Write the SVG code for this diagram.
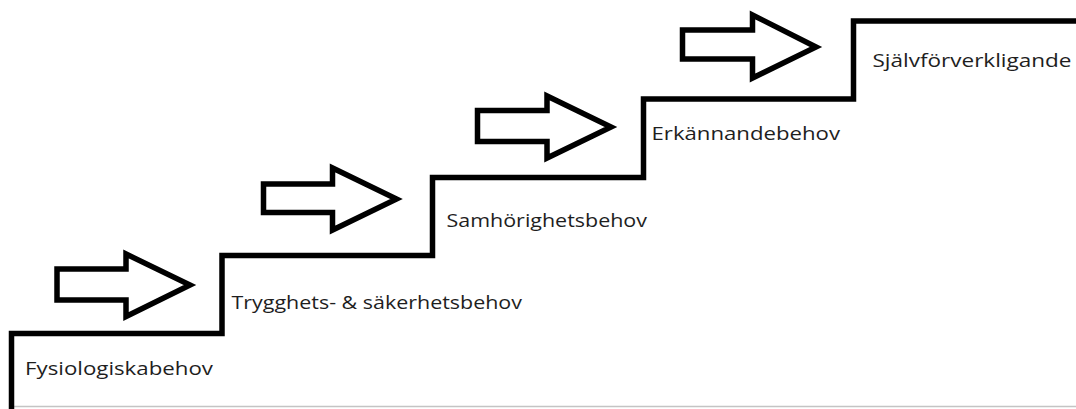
<svg xmlns="http://www.w3.org/2000/svg" width="1076" height="409" viewBox="0 0 1076 409">
  <style>
    .stair { fill: none; stroke: #000; stroke-width: 5.5; stroke-linejoin: miter; }
    .arrow { fill: #fff; stroke: #000; stroke-width: 5.5; stroke-linejoin: miter; stroke-miterlimit: 10; }
    .label { font-family: "Open Sans", "Noto Sans", "Liberation Sans", sans-serif; font-size: 18.5px; fill: #1e1e1e; }
    .base { stroke: #c4c4c4; stroke-width: 1.5; }
  </style>
  <rect width="1076" height="409" fill="#fff"/>

  <!-- staircase outline and ground line -->
  <g id="connectors">
    <line class="base" x1="14" y1="406.5" x2="1076" y2="406.5"/>
    <path class="stair" d="M11.5,409 V333.5 H222 V255.5 H432.5 V177.5 H643.5 V99 H853.5 V21 H1076"/>
  </g>

  <!-- block arrows pointing up the stairs -->
  <g id="arrow-1"><path class="arrow" d="M57,269 H126 V254 L190,285 L126,316.5 V300 H57 Z"/></g>
  <g id="arrow-2"><path class="arrow" d="M263.5,184 H332.5 V168 L396.5,199 L332.5,230 V212.5 H263.5 Z"/></g>
  <g id="arrow-3"><path class="arrow" d="M477.5,110.5 H547 V96 L611,127 L547,158 V141.5 H477.5 Z"/></g>
  <g id="arrow-4"><path class="arrow" d="M682.5,30 H752.5 V15 L816,47 L752.5,78 V59 H682.5 Z"/></g>

  <!-- step labels -->
  <g id="step-1"><text class="label" x="25" y="375" textLength="188" lengthAdjust="spacingAndGlyphs">Fysiologiskabehov</text></g>
  <g id="step-2"><text class="label" x="231.5" y="308.5" textLength="290.5" lengthAdjust="spacingAndGlyphs">Trygghets- &amp; säkerhetsbehov</text></g>
  <g id="step-3"><text class="label" x="446.5" y="226.5" textLength="200.5" lengthAdjust="spacingAndGlyphs">Samhörighetsbehov</text></g>
  <g id="step-4"><text class="label" x="651.5" y="140" textLength="188.5" lengthAdjust="spacingAndGlyphs">Erkännandebehov</text></g>
  <g id="step-5"><text class="label" x="872.5" y="66.5" textLength="199" lengthAdjust="spacingAndGlyphs">Självförverkligande</text></g>
</svg>
